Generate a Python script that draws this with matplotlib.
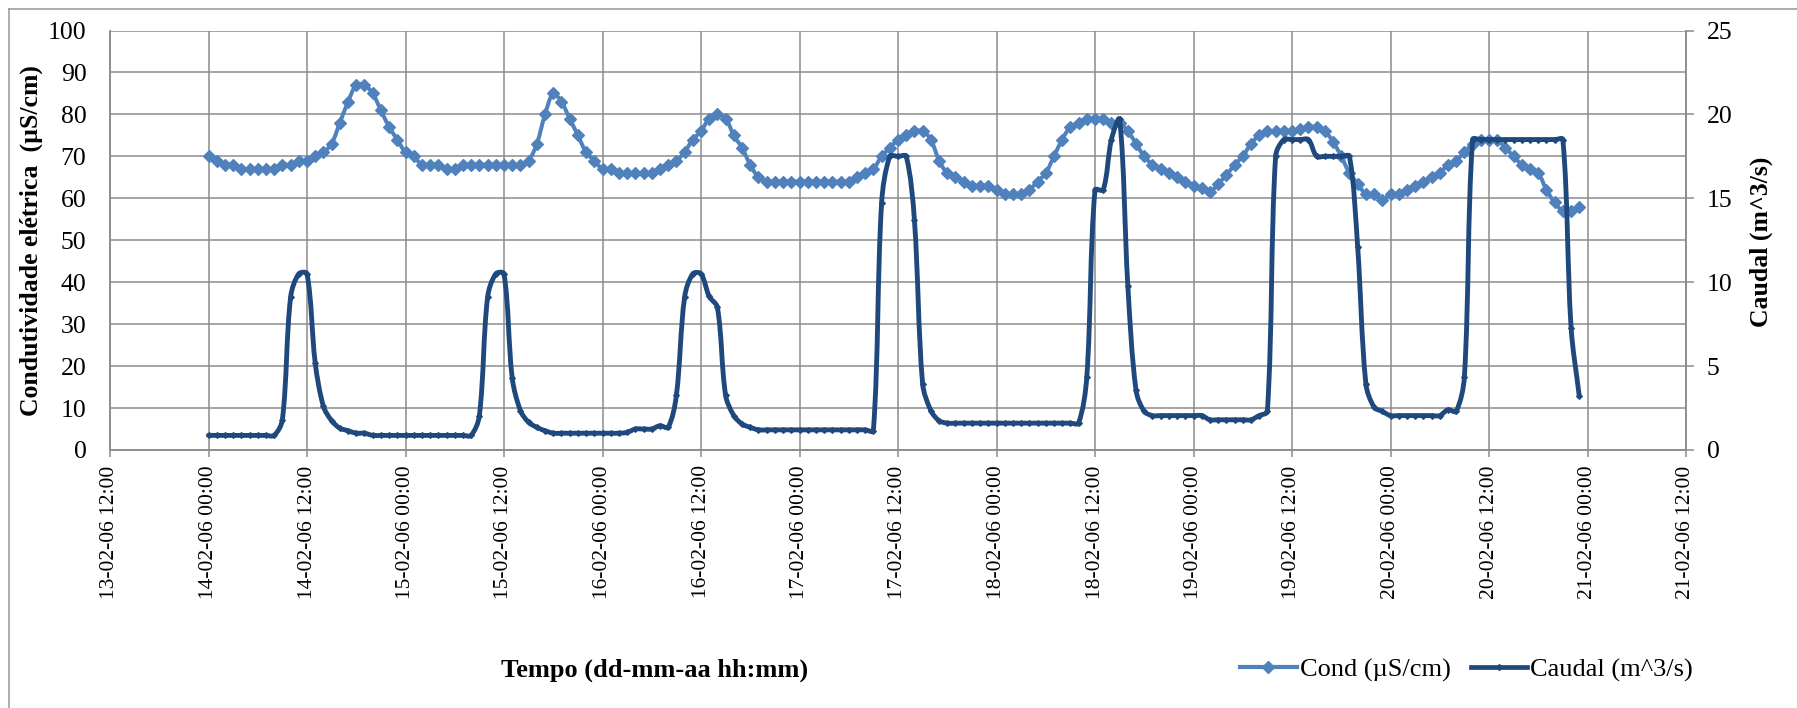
import numpy as np
import pandas as pd
import matplotlib
matplotlib.use('Agg')
import matplotlib.pyplot as plt
import matplotlib.dates as mdates
from matplotlib.path import Path
from matplotlib.patches import PathPatch
from matplotlib.lines import Line2D

# ---------------- data (hourly, from 14-02-06 00:00) ----------------
start_time = '2006-02-14 00:00'

cond = [
    70, 69, 68, 68, 67, 67, 67, 67, 67, 68, 68, 69,
    69, 70, 71, 73, 78, 83, 87, 87, 85, 81, 77, 74,
    71, 70, 68, 68, 68, 67, 67, 68, 68, 68, 68, 68,
    68, 68, 68, 69, 73, 80, 85, 83, 79, 75, 71, 69,
    67, 67, 66, 66, 66, 66, 66, 67, 68, 69, 71, 74,
    76, 79, 80, 79, 75, 72, 68, 65, 64, 64, 64, 64,
    64, 64, 64, 64, 64, 64, 64, 65, 66, 67, 70, 72,
    74, 75, 76, 76, 74, 69, 66, 65, 64, 63, 63, 63,
    62, 61, 61, 61, 62, 64, 66, 70, 74, 77, 78, 79,
    79, 79, 78, 78, 76, 73, 70, 68, 67, 66, 65, 64,
    63, 62.5, 61.5, 63.5, 65.5, 68, 70, 73, 75, 76, 76, 76,
    76, 76.5, 77, 77, 76, 73.5, 70, 66, 63.5, 61, 61, 59.5,
    61, 61, 62, 63, 64, 65, 66, 68, 69, 71, 73, 74,
    74, 74, 72, 70, 68, 67, 66, 62, 59, 57, 57, 58,
]

caudal = [
    0.87, 0.87, 0.87, 0.87, 0.87, 0.87, 0.87, 0.87, 0.87, 1.8, 9.1, 10.5,
    10.5, 5.2, 2.6, 1.75, 1.3, 1.15, 1.0, 1.0, 0.87, 0.87, 0.87, 0.87,
    0.87, 0.87, 0.87, 0.87, 0.87, 0.87, 0.87, 0.87, 0.87, 2.05, 9.1, 10.5,
    10.5, 4.3, 2.35, 1.65, 1.35, 1.15, 1.0, 1.0, 1.0, 1.0, 1.0, 1.0,
    1.0, 1.0, 1.0, 1.05, 1.25, 1.25, 1.25, 1.45, 1.35, 3.25, 9.1, 10.5,
    10.5, 9.15, 8.5, 3.25, 2.05, 1.55, 1.35, 1.2, 1.2, 1.2, 1.2, 1.2,
    1.2, 1.2, 1.2, 1.2, 1.2, 1.2, 1.2, 1.2, 1.2, 1.15, 14.7, 17.5,
    17.5, 17.5, 13.7, 3.95, 2.35, 1.75, 1.6, 1.6, 1.6, 1.6, 1.6, 1.6,
    1.6, 1.6, 1.6, 1.6, 1.6, 1.6, 1.6, 1.6, 1.6, 1.6, 1.6, 4.35,
    15.5, 15.5, 18.5, 19.7, 9.8, 3.55, 2.3, 2.05, 2.05, 2.05, 2.05, 2.05,
    2.05, 2.05, 1.8, 1.8, 1.8, 1.8, 1.8, 1.8, 2.05, 2.3, 17.5, 18.5,
    18.5, 18.5, 18.5, 17.5, 17.5, 17.5, 17.5, 17.5, 12.1, 3.95, 2.55, 2.3,
    2.05, 2.05, 2.05, 2.05, 2.05, 2.05, 2.05, 2.4, 2.3, 4.35, 18.5, 18.5,
    18.5, 18.5, 18.5, 18.5, 18.5, 18.5, 18.5, 18.5, 18.5, 18.5, 7.3, 3.2,
]

tick_start = '2006-02-13 12:00'
tick_end = '2006-02-21 12:00'
left_ticks = [0, 10, 20, 30, 40, 50, 60, 70, 80, 90, 100]
right_ticks = [0, 5, 10, 15, 20, 25]

label_cond = 'Cond (µS/cm)'
label_caudal = 'Caudal (m^3/s)'
ylabel_left = 'Condutividade elétrica  (µS/cm)'
ylabel_right = 'Caudal (m^3/s)'
xlabel = 'Tempo (dd-mm-aa hh:mm)'

# ---------------- styling ----------------
plt.rcParams['font.family'] = ['Liberation Serif', 'DejaVu Serif']
C_COND = '#4F81BD'
C_CAUD = '#1F497D'
GRID = '#8C8C8C'

W, H = 1797, 708
fig = plt.figure(figsize=(W / 100, H / 100), dpi=100)
fig.patch.set_facecolor('white')

L, R, T, B = 110, 1686, 30.5, 450
ax = fig.add_axes([L / W, 1 - B / H, (R - L) / W, (B - T) / H])
ax2 = ax.twinx()

times = pd.date_range(start_time, periods=len(cond), freq='h')
x = mdates.date2num(times.to_pydatetime())
ticks = pd.date_range(tick_start, tick_end, freq='12h')
tick_x = mdates.date2num(ticks.to_pydatetime())
tick_labels = [t.strftime('%d-%m-%y %H:%M') for t in ticks]

ax.set_xlim(tick_x[0], tick_x[-1])
ax.set_ylim(0, 100)
ax2.set_ylim(0, 25)
ax.set_xticks(tick_x)
ax.set_xticklabels(tick_labels, rotation=90, fontsize=15.5)
ax.set_yticks(left_ticks)
ax.set_yticklabels([str(v) for v in left_ticks], fontsize=18.5)
ax2.set_yticks(right_ticks)
ax2.set_yticklabels([str(v) for v in right_ticks], fontsize=18.5)

ax.grid(True, color=GRID, lw=1.1)
ax.set_axisbelow(True)
ax.tick_params(axis='x', direction='out', length=5, width=1.1, color=GRID, pad=6)
ax.tick_params(axis='y', length=0, pad=17)
ax2.tick_params(axis='y', direction='out', length=5.5, width=1.1, color=GRID, pad=9.5)
for a in (ax, ax2):
    for s in a.spines.values():
        s.set_color(GRID)
        s.set_linewidth(1.1)
    a.spines['top'].set_visible(False)


def smooth_path(axis, xs, ys):
    pts = axis.transData.transform(np.column_stack([xs, ys]))
    n = len(pts)
    verts = [pts[0]]
    codes = [Path.MOVETO]
    for i in range(n - 1):
        p0 = pts[i - 1] if i > 0 else pts[i]
        p1 = pts[i]
        p2 = pts[i + 1]
        p3 = pts[i + 2] if i + 2 < n else pts[i + 1]
        d01 = np.hypot(*(p1 - p0))
        d12 = np.hypot(*(p2 - p1))
        d23 = np.hypot(*(p3 - p2))
        c1 = p1 + (p2 - p0) * (d12 / (3 * (d01 + d12))) if d01 + d12 > 0 else p1
        c2 = p2 - (p3 - p1) * (d12 / (3 * (d12 + d23))) if d12 + d23 > 0 else p2
        verts += [c1, c2, p2]
        codes += [Path.CURVE4] * 3
    verts = axis.transData.inverted().transform(np.array(verts))
    return Path(verts, codes)


ax.add_patch(PathPatch(smooth_path(ax, x, cond), facecolor='none',
                       edgecolor=C_COND, lw=2.9, joinstyle='round', capstyle='round'))
ax.plot(x, cond, ls='none', marker='D', ms=6.2, color=C_COND, mec=C_COND, mew=0.9)

ax2.add_patch(PathPatch(smooth_path(ax2, x, caudal), facecolor='none',
                        edgecolor=C_CAUD, lw=3.5, joinstyle='round', capstyle='round'))
ax2.plot(x, caudal, ls='none', marker='D', ms=3.0, color=C_CAUD, mec=C_CAUD, mew=0.8)

# axis titles
fig.text(31 / W, 1 - 241 / H, ylabel_left, rotation=90, ha='center', va='center',
         fontsize=18.5, fontweight='bold')
fig.text(1761 / W, 1 - 242 / H, ylabel_right, rotation=90, ha='center', va='center',
         fontsize=18.5, fontweight='bold')
fig.text(655 / W, 1 - 670 / H, xlabel, ha='center', va='center',
         fontsize=19, fontweight='bold')

# legend
h1 = Line2D([], [], color=C_COND, lw=3.0, marker='D', ms=6, mec=C_COND)
h2 = Line2D([], [], color=C_CAUD, lw=3.4, marker='D', ms=3, mec=C_CAUD)
fig.legend([h1, h2], [label_cond, label_caudal], loc='center left',
           bbox_to_anchor=(1240 / W, 1 - 670 / H), ncol=2, frameon=False,
           fontsize=19, handlelength=2.15, handletextpad=0.12, columnspacing=0.75,
           borderaxespad=0, borderpad=0)

# chart-area border (cropped on right and bottom)
fig.add_artist(Line2D([9 / W, 9 / W], [0, 1 - 9 / H], transform=fig.transFigure,
                      color='#A0A0A0', lw=1.2))
fig.add_artist(Line2D([9 / W, 1], [1 - 9 / H, 1 - 9 / H], transform=fig.transFigure,
                      color='#A0A0A0', lw=1.2))

fig.savefig('out.png', dpi=100, facecolor='white')
